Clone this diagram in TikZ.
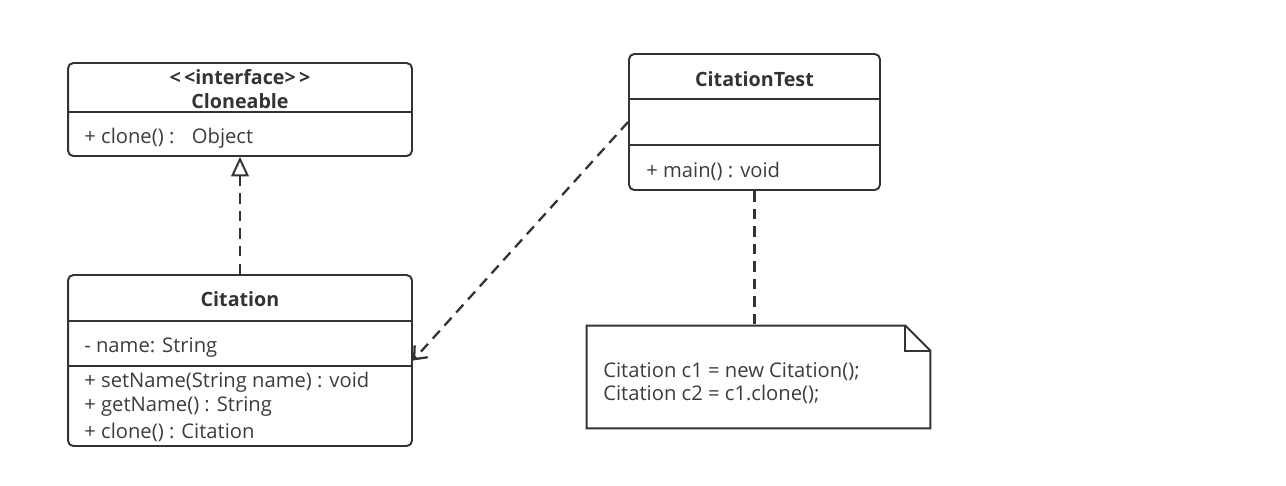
\documentclass[tikz,border=0pt]{standalone}
\usepackage{fontspec}
\setmainfont{Open Sans}
\usetikzlibrary{arrows.meta}

\definecolor{umlline}{HTML}{333333}
\definecolor{umltext}{HTML}{3C3C3C}

\begin{document}
\begin{tikzpicture}[x=0.02cm,y=-0.02cm,font=\fontsize{11.5}{13}\selectfont,
    class/.style={draw=umlline,line width=1.1pt,rounded corners=3pt,inner sep=0},
    divider/.style={draw=umlline,line width=1.1pt},
    title/.style={inner sep=0,text=umlline,font=\fontsize{11.2}{13}\selectfont\bfseries},
    member/.style={anchor=west,inner sep=0,text=umltext,yshift=-2.5pt},
    dashline/.style={draw=umlline,line width=1.3pt,dash pattern=on 6pt off 4pt}]

\useasboundingbox (0,0) rectangle (1286,485);

% interface
\node[class,minimum width=6.88cm,minimum height=1.86cm] (cloneable) at (240,109.5) {};
\draw[divider] (cloneable.west |- 0,112) -- (cloneable.east |- 0,112);
\node[title] (stereo) at (240,77) {<\,<interface>\,>};
\node[title] (clonename) at (240,101) {Cloneable};
\node[member] (cloneop) at (84,134) {+ clone() :~~ Object};

% class
\node[class,minimum width=6.88cm,minimum height=3.42cm] (citation) at (240,360.5) {};
\draw[divider] (citation.west |- 0,321) -- (citation.east |- 0,321);
\draw[divider] (citation.west |- 0,366) -- (citation.east |- 0,366);
\node[title] (citationname) at (240,299) {Citation};
\node[member] (nameattr) at (84,343) {- name: String};
\node[member] (setop) at (84,378) {+ setName(String name) : void};
\node[member] (getop) at (84,402) {+ getName() : String};
\node[member] (copyop) at (84,428) {+ clone() : Citation};

% client
\node[class,minimum width=5.02cm,minimum height=2.72cm] (citationtest) at (754.5,122) {};
\draw[divider] (citationtest.west |- 0,99) -- (citationtest.east |- 0,99);
\draw[divider] (citationtest.west |- 0,145) -- (citationtest.east |- 0,145);
\node[title] (testname) at (754.5,79) {CitationTest};
\node[member] (mainop) at (646,167) {+ main() : void};

% note
\node[minimum width=6.86cm,minimum height=2.04cm,inner sep=0] (note) at (758.5,377) {};
\draw[divider] (note.north west) -- ([xshift=-0.5cm]note.north east)
  -- ([yshift=-0.5cm]note.north east) -- (note.south east) -- (note.south west) -- cycle;
\draw[divider] ([xshift=-0.5cm]note.north east) |- ([yshift=-0.5cm]note.north east);
\node[member] (line1) at (603,367) {Citation c1 = new Citation();};
\node[member] (line2) at (603,390) {Citation c2 = c1.clone();};

\draw[dashline,-{Triangle[open,length=11pt,width=10pt,line width=1.1pt]}] (citation.north) -- (cloneable.south);
\draw[dashline,-{Straight Barb[length=6pt,width=10pt]}] (citationtest.west) -- (citation.east);
\draw[dashline] (citationtest.south) -- (citationtest.south |- note.north);

\end{tikzpicture}
\end{document}
